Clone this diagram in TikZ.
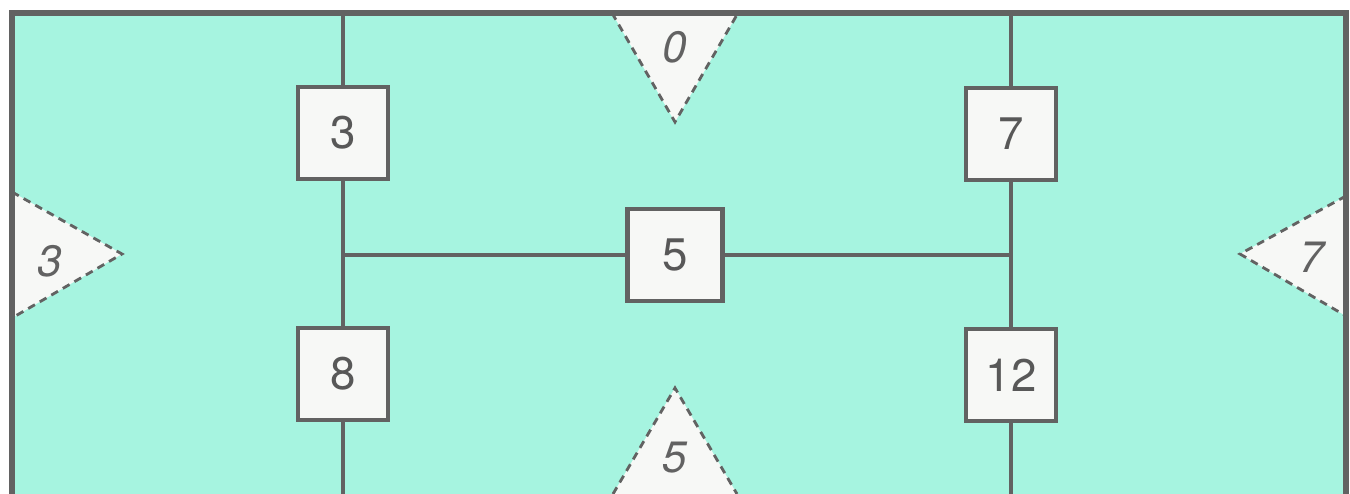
\documentclass[tikz,border=0pt]{standalone}
\usepackage{fontspec}
\setmainfont{TeX Gyre Heros}
\usepackage{xcolor}
\usepackage{tikz}
\usetikzlibrary{positioning,calc}

\definecolor{aqua}{RGB}{166,244,224}
\definecolor{ink}{RGB}{98,98,98}
\definecolor{paper}{RGB}{247,248,246}

\begin{document}
\begin{tikzpicture}[
  box/.style={rectangle,draw=ink,line width=1.2pt,fill=paper,minimum width=0.9cm,minimum height=0.92cm,inner sep=0pt,font=\fontsize{13}{15}\selectfont,text=ink!90!black},
  wire/.style={draw=ink,line width=1.15pt},
  frame/.style={draw=ink,line width=1.45pt},
  tri/.style={fill=paper,draw=ink,dashed,line width=0.8pt,dash pattern=on 2.2pt off 1.6pt},
  tag/.style={font=\itshape\fontsize{12.5}{14}\selectfont,text=ink}
]
\useasboundingbox (0,0) rectangle (13.5,4.94);
\fill[aqua] (0.12,0) rectangle (13.46,4.81);

% dashed wedges on the edges
\draw[tri] (6.12,4.81) -- (6.75,3.72) -- (7.38,4.81);
\draw[tri] (6.13,0) -- (6.75,1.06) -- (7.37,0);
\draw[tri] (0.12,3.02) -- (1.22,2.40) -- (0.12,1.76);
\draw[tri] (13.46,2.98) -- (12.40,2.40) -- (13.46,1.78);
\node[tag] (t0) at (6.75,4.47) {0};
\node[tag] (t5) at (6.75,0.36) {5};
\node[tag] (t3) at (0.50,2.33) {3};
\node[tag] (t7) at (13.12,2.37) {7};

% outer frame
\draw[frame] (0.12,0) -- (0.12,4.81) -- (13.46,4.81) -- (13.46,0);

% end points of the lines
\coordinate (topL) at (3.43,4.81);
\coordinate (botL) at (3.43,0);
\coordinate (topR) at (10.11,4.81);
\coordinate (botR) at (10.11,0);
\coordinate (jL) at (3.43,2.39);
\coordinate (jR) at (10.11,2.39);

\node[box] (b3) at (3.43,3.61) {3};
\node[box] (b8) at (3.43,1.20) {8};
\node[box] (b7) at (10.11,3.60) {7};
\node[box] (b12) at (10.11,1.19) {12};
\node[box,minimum width=0.95cm] (b5) at (6.75,2.39) {5};

\draw[wire] (topL) -- (b3);
\draw[wire] (b3) -- (b8);
\draw[wire] (b8) -- (botL);
\draw[wire] (topR) -- (b7);
\draw[wire] (b7) -- (b12);
\draw[wire] (b12) -- (botR);
\draw[wire] (jL) -- (b5);
\draw[wire] (b5) -- (jR);
\end{tikzpicture}
\end{document}
